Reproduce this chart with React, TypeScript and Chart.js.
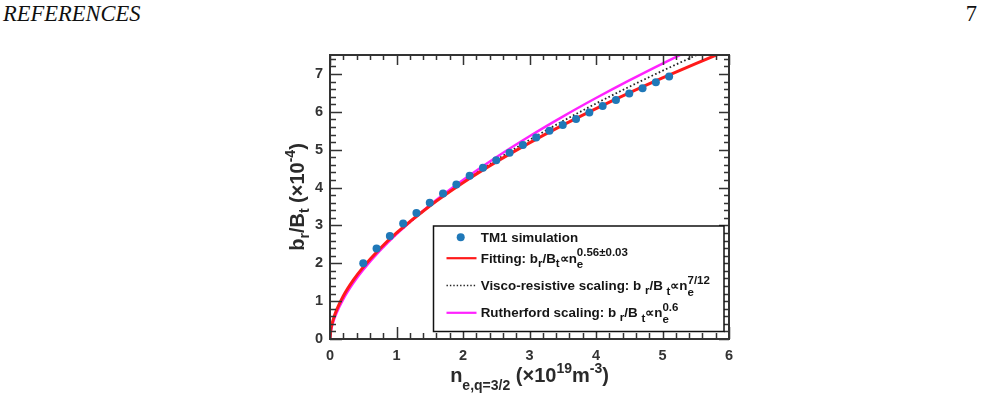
import React, { useEffect, useRef } from 'react';
import { Chart, registerables } from 'chart.js';

Chart.register(...registerables);

// TM1 simulation: island width b_r/B_t (x1e-4) against density at q=3/2 (x1e19 m^-3)
const simDensity = [0.5, 0.7, 0.9, 1.1, 1.3, 1.5, 1.7, 1.9, 2.1, 2.3, 2.5, 2.7, 2.9, 3.1, 3.3, 3.5, 3.7, 3.9, 4.1, 4.3, 4.5, 4.7, 4.9, 5.1];
const simField = [2.0, 2.39, 2.72, 3.05, 3.33, 3.6, 3.84, 4.08, 4.31, 4.52, 4.72, 4.92, 5.12, 5.32, 5.5, 5.65, 5.81, 5.98, 6.15, 6.31, 6.48, 6.62, 6.78, 6.93];

// Scaling curves, sampled along the density axis
const curveDensity = [0, 0.01, 0.03, 0.06, 0.1, 0.2, 0.35, 0.5, 0.75, 1, 1.5, 2, 2.5, 3, 3.5, 4, 4.5, 5, 5.5, 6];
const fitField = [0, 0.212, 0.393, 0.579, 0.771, 1.137, 1.555, 1.899, 2.383, 2.8, 3.514, 4.128, 4.677, 5.18, 5.648, 6.086, 6.501, 6.896, 7.274, 7.637];
const viscoField = [0, 0.189, 0.358, 0.537, 0.723, 1.083, 1.502, 1.849, 2.342, 2.77, 3.509, 4.15, 4.728, 5.258, 5.753, 6.218, 6.661, 7.083, 7.488, 7.878];
const rutherfordField = [0, 0.175, 0.338, 0.512, 0.696, 1.055, 1.476, 1.828, 2.331, 2.77, 3.533, 4.198, 4.8, 5.355, 5.874, 6.364, 6.83, 7.275, 7.703, 8.117];

const xTickValues = [0, 1, 2, 3, 4, 5, 6];
const yTickValues = [0, 1, 2, 3, 4, 5, 6, 7];
const xRange = [0, 6];
const yRange = [0, 7.5];
const minorStep = 0.2;

const FONT = '"Liberation Sans", Arial, Helvetica, sans-serif';
const SIM_COLOR = '#1f78b8';
const FIT_COLOR = '#ff1a1a';
const RUTH_COLOR = '#ff22ff';
const VISCO_COLOR = '#222222';

type Part = { t: string; size: number; dy: number; stack?: boolean };

// Draws a run of text pieces with sub/superscripts; returns its width.
function drawRich(ctx: CanvasRenderingContext2D, x0: number, y: number, parts: Part[], draw = true): number {
  let x = x0;
  let prevStart = x0;
  let prevEnd = x0;
  for (const p of parts) {
    ctx.font = `bold ${p.size}px ${FONT}`;
    const w = ctx.measureText(p.t).width;
    const start = p.stack ? prevStart : x;
    if (draw) ctx.fillText(p.t, start, y + p.dy);
    const end = start + w;
    x = p.stack ? Math.max(prevEnd, end) : end;
    prevStart = start;
    prevEnd = end;
  }
  return x - x0;
}

const xTitle: Part[] = [
  { t: 'n', size: 20, dy: 0 },
  { t: 'e,q=3/2', size: 14, dy: 8 },
  { t: ' (\u00d710', size: 20, dy: 0 },
  { t: '19', size: 14, dy: -9 },
  { t: 'm', size: 20, dy: 0 },
  { t: '-3', size: 14, dy: -9 },
  { t: ')', size: 20, dy: 0 },
];

const yTitle: Part[] = [
  { t: 'b', size: 20, dy: 0 },
  { t: 'r', size: 14, dy: 5 },
  { t: '/B', size: 20, dy: 0 },
  { t: 't', size: 14, dy: 5 },
  { t: ' (\u00d710', size: 20, dy: 0 },
  { t: '-4', size: 14, dy: -9 },
  { t: ')', size: 20, dy: 0 },
];

const LS = 13.4;
const SS = 11.5;
const legendRows: { kind: 'dot' | 'fit' | 'visco' | 'ruth'; y: number; parts: Part[] }[] = [
  { kind: 'dot', y: 241.7, parts: [{ t: 'TM1 simulation', size: LS, dy: 0 }] },
  {
    kind: 'fit',
    y: 262.7,
    parts: [
      { t: 'Fitting: b', size: LS, dy: 0 },
      { t: 'r', size: SS, dy: 4 },
      { t: '/B', size: LS, dy: 0 },
      { t: 't', size: SS, dy: 4.5 },
      { t: '\u221dn', size: LS, dy: 0 },
      { t: 'e', size: SS, dy: 5.5 },
      { t: '0.56\u00b10.03', size: SS, dy: -6.5, stack: true },
    ],
  },
  {
    kind: 'visco',
    y: 290,
    parts: [
      { t: 'Visco-resistive scaling: b ', size: LS, dy: 0 },
      { t: 'r', size: SS, dy: 4 },
      { t: '/B ', size: LS, dy: 0 },
      { t: 't', size: SS, dy: 4.5 },
      { t: '\u221dn', size: LS, dy: 0 },
      { t: 'e', size: SS, dy: 5.5 },
      { t: '7/12', size: SS, dy: -6.5, stack: true },
    ],
  },
  {
    kind: 'ruth',
    y: 317.3,
    parts: [
      { t: 'Rutherford scaling: b ', size: LS, dy: 0 },
      { t: 'r', size: SS, dy: 4 },
      { t: '/B ', size: LS, dy: 0 },
      { t: 't', size: SS, dy: 4.5 },
      { t: '\u221dn', size: LS, dy: 0 },
      { t: 'e', size: SS, dy: 5.5 },
      { t: '0.6', size: SS, dy: -6.5, stack: true },
    ],
  },
];

// Frame with inward ticks on all sides, axis titles and the boxed legend.
const decorPlugin = {
  id: 'decor',
  afterDraw(chart: any) {
    const { ctx, chartArea: a, scales } = chart;
    const xs = scales.x;
    const ys = scales.y;
    ctx.save();

    ctx.strokeStyle = '#333';
    ctx.lineWidth = 1.5;
    ctx.beginPath();
    const nx = Math.round((xRange[1] - xRange[0]) / minorStep);
    for (let i = 0; i <= nx; i++) {
      const v = xRange[0] + i * minorStep;
      const major = i % 5 === 0;
      const px = Math.round(xs.getPixelForValue(v)) + 0.5;
      ctx.moveTo(px, a.bottom);
      ctx.lineTo(px, a.bottom - (major ? 12 : 6));
      ctx.moveTo(px, a.top);
      ctx.lineTo(px, a.top + (major ? 10 : 5));
    }
    const ny = Math.floor((yRange[1] - yRange[0]) / minorStep + 1e-9);
    for (let i = 0; i <= ny; i++) {
      const v = yRange[0] + i * minorStep;
      const major = i % 5 === 0;
      const py = Math.round(ys.getPixelForValue(v)) + 0.5;
      ctx.moveTo(a.left, py);
      ctx.lineTo(a.left + (major ? 12 : 6), py);
      ctx.moveTo(a.right, py);
      ctx.lineTo(a.right - (major ? 10 : 5), py);
    }
    ctx.stroke();

    ctx.lineWidth = 2;
    ctx.strokeRect(a.left, a.top, a.right - a.left, a.bottom - a.top);

    // axis titles
    ctx.fillStyle = '#2a2a2a';
    ctx.textAlign = 'left';
    ctx.textBaseline = 'alphabetic';
    const xw = drawRich(ctx, 0, 0, xTitle, false);
    drawRich(ctx, (a.left + a.right) / 2 - xw / 2, 381.5, xTitle);

    const yw = drawRich(ctx, 0, 0, yTitle, false);
    ctx.save();
    ctx.translate(304, (a.top + a.bottom) / 2);
    ctx.rotate(-Math.PI / 2);
    drawRich(ctx, -yw / 2, 0, yTitle);
    ctx.restore();

    // legend box
    ctx.fillStyle = '#ffffff';
    ctx.fillRect(433.5, 226, 290.5, 105.5);
    ctx.strokeStyle = '#111';
    ctx.lineWidth = 1.5;
    ctx.strokeRect(433.5, 226, 290.5, 105.5);

    for (const row of legendRows) {
      const midY = row.y - 4.5;
      if (row.kind === 'dot') {
        ctx.fillStyle = SIM_COLOR;
        ctx.beginPath();
        ctx.arc(460.7, midY, 4, 0, Math.PI * 2);
        ctx.fill();
      } else {
        ctx.beginPath();
        ctx.moveTo(446.5, midY);
        ctx.lineTo(476.5, midY);
        if (row.kind === 'fit') {
          ctx.strokeStyle = FIT_COLOR;
          ctx.lineWidth = 2.2;
          ctx.setLineDash([]);
        } else if (row.kind === 'ruth') {
          ctx.strokeStyle = RUTH_COLOR;
          ctx.lineWidth = 2.2;
          ctx.setLineDash([]);
        } else {
          ctx.strokeStyle = VISCO_COLOR;
          ctx.lineWidth = 1.4;
          ctx.setLineDash([1.4, 2]);
        }
        ctx.stroke();
        ctx.setLineDash([]);
      }
      ctx.fillStyle = '#151515';
      drawRich(ctx, 480.7, row.y, row.parts);
    }

    ctx.restore();
  },
};

function pairs(xs: number[], ys: number[]) {
  return xs.map((x, i) => ({ x, y: ys[i] }));
}

export default function App() {
  const canvasRef = useRef<HTMLCanvasElement | null>(null);

  useEffect(() => {
    const canvas = canvasRef.current;
    if (!canvas) return;
    const tickFont = { family: FONT, size: 14.5, weight: 'bold' as const };
    const chart = new Chart(canvas, {
      type: 'scatter',
      data: {
        datasets: [
          {
            label: 'TM1 simulation',
            data: pairs(simDensity, simField),
            showLine: false,
            pointRadius: 4,
            pointBackgroundColor: SIM_COLOR,
            pointBorderWidth: 0,
            borderColor: SIM_COLOR,
          },
          {
            label: 'Fitting',
            data: pairs(curveDensity, fitField),
            showLine: true,
            pointRadius: 0,
            borderColor: FIT_COLOR,
            borderWidth: 3,
            cubicInterpolationMode: 'monotone',
          },
          {
            label: 'Rutherford scaling',
            data: pairs(curveDensity, rutherfordField),
            showLine: true,
            pointRadius: 0,
            borderColor: RUTH_COLOR,
            borderWidth: 2.5,
            cubicInterpolationMode: 'monotone',
          },
          {
            label: 'Visco-resistive scaling',
            data: pairs(curveDensity, viscoField),
            showLine: true,
            pointRadius: 0,
            borderColor: VISCO_COLOR,
            borderWidth: 1.8,
            borderDash: [1.6, 2.4],
            cubicInterpolationMode: 'monotone',
          },
        ],
      },
      options: {
        responsive: false,
        animation: false,
        events: [],
        layout: { padding: { top: 55, right: 269, bottom: 0, left: 0 } },
        plugins: { legend: { display: false }, tooltip: { enabled: false } },
        scales: {
          x: {
            type: 'linear',
            min: xRange[0],
            max: xRange[1],
            afterFit: (s: any) => {
              s.height = 76;
            },
            afterBuildTicks: (s: any) => {
              s.ticks = xTickValues.map((v) => ({ value: v }));
            },
            grid: { display: false, drawTicks: false },
            border: { display: false },
            ticks: { font: tickFont, color: '#333', padding: 8, maxRotation: 0, callback: (v: any) => String(v) },
          },
          y: {
            type: 'linear',
            min: yRange[0],
            max: yRange[1],
            afterFit: (s: any) => {
              s.width = 330;
            },
            afterBuildTicks: (s: any) => {
              s.ticks = yTickValues.map((v) => ({ value: v }));
            },
            grid: { display: false, drawTicks: false },
            border: { display: false },
            ticks: { font: tickFont, color: '#333', padding: 7, callback: (v: any) => String(v) },
          },
        },
      },
      plugins: [decorPlugin],
    } as any);
    return () => chart.destroy();
  }, []);

  return (
    <div style={{ position: 'fixed', left: 0, top: 0, width: 998, height: 415, background: '#fff', overflow: 'hidden' }}>
      <div
        style={{
          position: 'absolute',
          left: 3,
          top: 3,
          fontFamily: '"Liberation Serif", "DejaVu Serif", serif',
          fontStyle: 'italic',
          fontSize: 22.5,
          lineHeight: '22px',
          color: '#111',
        }}
      >
        REFERENCES
      </div>
      <div
        style={{
          position: 'absolute',
          right: 21,
          top: 3,
          fontFamily: '"Liberation Serif", "DejaVu Serif", serif',
          fontSize: 22.5,
          lineHeight: '22px',
          color: '#111',
        }}
      >
        7
      </div>
      <canvas ref={canvasRef} width={998} height={415} style={{ position: 'absolute', left: 0, top: 0, display: 'block' }} />
    </div>
  );
}
